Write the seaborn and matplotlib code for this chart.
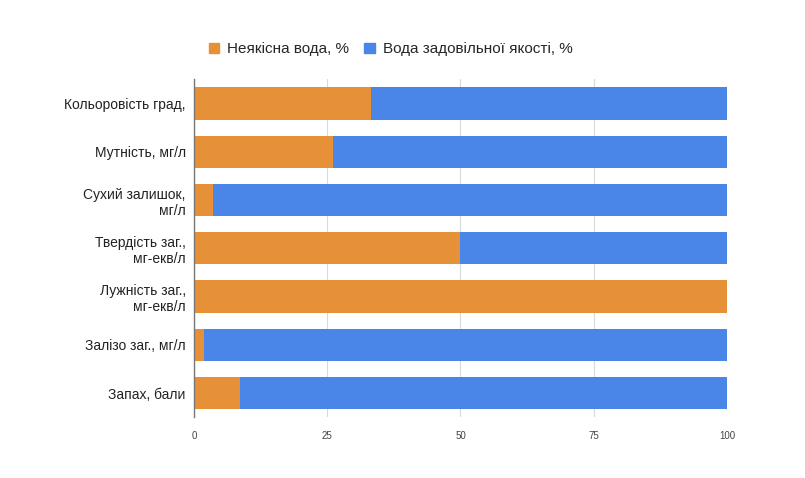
import pandas as pd
import matplotlib.pyplot as plt
import seaborn as sns
from matplotlib.patches import Patch

categories = [
    "Кольоровість град,",
    "Мутність, мг/л",
    "Сухий залишок,\nмг/л",
    "Твердість заг.,\nмг-екв/л",
    "Лужність заг.,\nмг-екв/л",
    "Залізо заг., мг/л",
    "Запах, бали",
]
bad_water = [33.3, 26.0, 3.5, 50.0, 100.0, 1.8, 8.7]
good_water = [100 - v for v in bad_water]

series_names = ["Неякісна вода, %", "Вода задовільної якості, %"]
colors = ["#E69138", "#4A86E8"]

df = pd.DataFrame({"Показник": categories, "bad": bad_water, "good": good_water})
df["total"] = df["bad"] + df["good"]

sns.set_style("white")
plt.rcParams["font.family"] = ["Liberation Sans", "DejaVu Sans"]

fig = plt.figure(figsize=(8.05, 4.78), dpi=100)
ax = fig.add_axes([0.241, 0.127, 0.662, 0.707])

# stacked: total (blue) underneath, bad water (orange) on top
sns.barplot(data=df, y="Показник", x="total", color=colors[1], width=0.67,
            saturation=1, orient="h", linewidth=0, ax=ax)
sns.barplot(data=df, y="Показник", x="bad", color=colors[0], width=0.67,
            saturation=1, orient="h", linewidth=0, ax=ax)

ax.set_xlim(0, 100)
ax.set_xticks([0, 25, 50, 75, 100])
ax.set_xticklabels(["0", "25", "50", "75", "100"])
ax.set_xlabel("")
ax.set_ylabel("")
ax.grid(axis="x", color="#d9d9d9", linewidth=0.8)
ax.set_axisbelow(True)
for s in ["top", "right", "bottom"]:
    ax.spines[s].set_visible(False)
ax.spines["left"].set_color("#777777")
ax.spines["left"].set_linewidth(1)
ax.tick_params(axis="x", length=0, labelsize=7, colors="#444444", pad=10)
ax.tick_params(axis="y", length=0, labelsize=10, colors="#222222", pad=6)

handles = [Patch(color=c, label=n) for c, n in zip(colors, series_names)]
fig.legend(handles=handles, loc="center", bbox_to_anchor=(0.485, 0.897),
           ncol=2, frameon=False, fontsize=11, handlelength=0.7,
           handleheight=0.7, handletextpad=0.5, columnspacing=1.0)

fig.savefig("out.png", dpi=100)
